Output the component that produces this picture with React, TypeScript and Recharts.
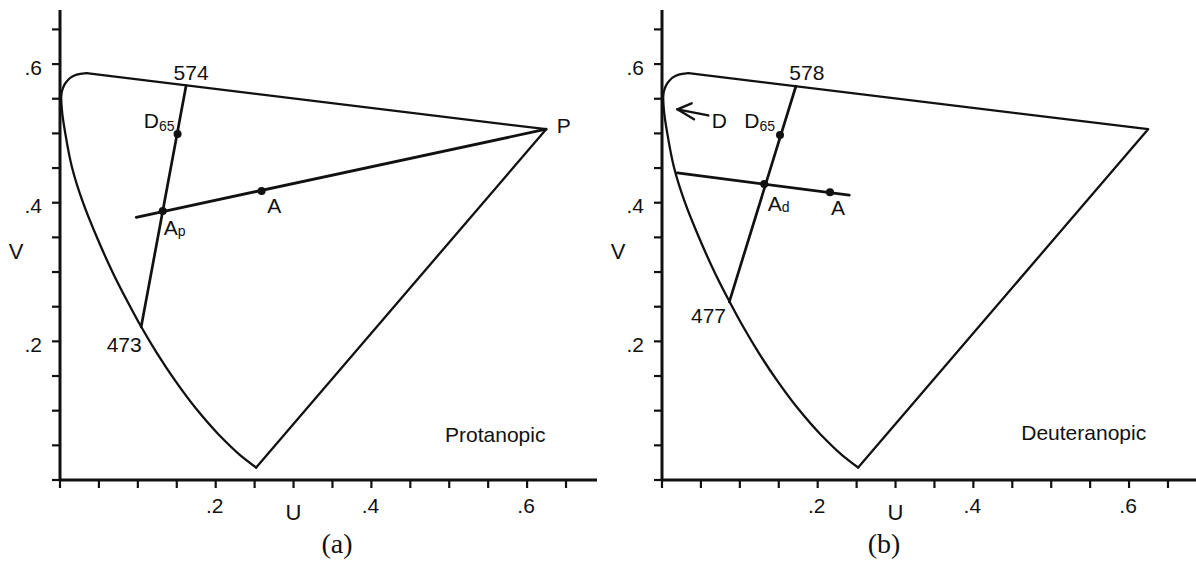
import React from 'react';
import { ComposedChart, Line, XAxis, YAxis, ReferenceDot } from 'recharts';

type Pt = { u: number; v: number };

// spectrum locus: curved branch from the violet corner up round the green bend
// (v rises along the list, so it is drawn with a monotone-in-v curve)
const locusCurve: Pt[] = [
  { u: 0.252, v: 0.018 },
  { u: 0.2313, v: 0.036 },
  { u: 0.2043, v: 0.065 },
  { u: 0.1747, v: 0.103 },
  { u: 0.1475, v: 0.144 },
  { u: 0.1245, v: 0.183 },
  { u: 0.1043, v: 0.221 },
  { u: 0.0855, v: 0.26 },
  { u: 0.0683, v: 0.298 },
  { u: 0.0478, v: 0.349 },
  { u: 0.0296, v: 0.4 },
  { u: 0.0152, v: 0.452 },
  { u: 0.0068, v: 0.5 },
  { u: 0.0028, v: 0.53 },
  { u: 0.0015, v: 0.553 },
  { u: 0.004, v: 0.566 },
  { u: 0.008, v: 0.574 },
  { u: 0.0165, v: 0.5825 },
  { u: 0.026, v: 0.586 },
  { u: 0.034, v: 0.587 },
];
// straight edges: top of the locus to the red end, purple line back down
const locusEdges: Pt[] = [
  { u: 0.034, v: 0.587 },
  { u: 0.6245, v: 0.506 },
  { u: 0.252, v: 0.018 },
];

// (a) protanopic
const protanTop: Pt = { u: 0.162, v: 0.569 }; // 574 nm
const protanBottom: Pt = { u: 0.1043, v: 0.221 }; // 473 nm
const protanPoint: Pt = { u: 0.6245, v: 0.506 }; // P
const protanConfusion: Pt[] = [{ u: 0.0979, v: 0.379 }, protanPoint];
const protanD65: Pt = { u: 0.151, v: 0.499 };
const protanA: Pt = { u: 0.259, v: 0.417 };
const protanAp: Pt = { u: 0.132, v: 0.388 };

// (b) deuteranopic
const deutanTop: Pt = { u: 0.172, v: 0.568 }; // 578 nm
const deutanBottom: Pt = { u: 0.0865, v: 0.257 }; // 477 nm
const deutanConfusion: Pt[] = [{ u: 0.0197, v: 0.443 }, { u: 0.2406, v: 0.411 }];
const deutanD65: Pt = { u: 0.1516, v: 0.4976 };
const deutanA: Pt = { u: 0.2158, v: 0.415 };
const deutanAd: Pt = { u: 0.1314, v: 0.427 };
const arrowShaft: Pt[] = [{ u: 0.0595, v: 0.5259 }, { u: 0.0197, v: 0.5347 }];
const arrowHead: Pt[] = [
  { u: 0.0381, v: 0.5434 },
  { u: 0.0197, v: 0.5347 },
  { u: 0.0411, v: 0.5203 },
];

const uTicks = [0, 0.05, 0.1, 0.15, 0.2, 0.25, 0.3, 0.35, 0.4, 0.45, 0.5, 0.55, 0.6, 0.65];
const vTicks = [0, 0.05, 0.1, 0.15, 0.2, 0.25, 0.3, 0.35, 0.4, 0.45, 0.5, 0.55, 0.6, 0.65];
const labelledTicks = [0.2, 0.4, 0.6];

const INK = '#111';
const SANS = '"Liberation Sans", Arial, Helvetica, sans-serif';
const SERIF = '"Liberation Serif", "Times New Roman", serif';
const V_MAX = 0.678;

const isLabelled = (val: number) => labelledTicks.some((t) => Math.abs(t - val) < 1e-6);
const fmt = (val: number) => String(val).replace(/^0/, '');

const XTick = ({ x, y, payload }: any) =>
  isLabelled(payload.value) ? (
    <text x={x - 1} y={y + 23} textAnchor="middle" fontSize={21} fontFamily={SANS} fill={INK}>
      {fmt(payload.value)}
    </text>
  ) : (
    <g />
  );

const YTick = ({ x, y, payload }: any) =>
  isLabelled(payload.value) ? (
    <text x={x - 8} y={y + 10.5} textAnchor="end" fontSize={21} fontFamily={SANS} fill={INK}>
      {fmt(payload.value)}
    </text>
  ) : (
    <g />
  );

interface Note {
  at: Pt;
  text: string;
  sub?: string;
  anchor?: 'start' | 'middle' | 'end';
  dx: number;
  dy: number;
  subDy?: number;
}

const NoteText = ({ viewBox, note }: any) => {
  const cx = viewBox.x + (viewBox.width || 0) / 2;
  const cy = viewBox.y + (viewBox.height || 0) / 2;
  return (
    <text
      x={cx + note.dx}
      y={cy + note.dy}
      textAnchor={note.anchor ?? 'start'}
      fontSize={21}
      fontFamily={SANS}
      fill={INK}
    >
      {note.text}
      {note.sub && (
        <tspan fontSize={14} dy={note.subDy ?? 2.5}>
          {note.sub}
        </tspan>
      )}
    </text>
  );
};

const protanNotes: Note[] = [
  { at: protanTop, text: '574', anchor: 'middle', dx: 5, dy: -5.5 },
  { at: protanD65, text: 'D', sub: '65', anchor: 'end', dx: -3, dy: -5.7 },
  { at: protanAp, text: 'A', sub: 'p', dx: 1, dy: 24, subDy: 1 },
  { at: protanA, text: 'A', dx: 5.5, dy: 22.4 },
  { at: protanPoint, text: 'P', dx: 10.5, dy: 3.5 },
  { at: protanBottom, text: '473', anchor: 'end', dx: 0.5, dy: 25 },
  { at: { u: 0.6236, v: 0.055 }, text: 'Protanopic', anchor: 'end', dx: 0, dy: 0 },
];

const deutanNotes: Note[] = [
  { at: deutanTop, text: '578', anchor: 'middle', dx: 11, dy: -6 },
  { at: deutanD65, text: 'D', sub: '65', anchor: 'end', dx: -5, dy: -6.7 },
  { at: arrowShaft[0], text: 'D', dx: 3.4, dy: 13 },
  { at: deutanAd, text: 'A', sub: 'd', dx: 3.4, dy: 26.7, subDy: 1 },
  { at: deutanA, text: 'A', dx: 1, dy: 22.7 },
  { at: deutanBottom, text: '477', anchor: 'end', dx: -3.3, dy: 21.5 },
  { at: { u: 0.622, v: 0.057 }, text: 'Deuteranopic', anchor: 'end', dx: 0, dy: 0 },
];

const seg = (
  key: string,
  data: Pt[],
  width: number,
  type: 'linear' | 'monotoneY' = 'linear',
) => (
  <Line
    key={key}
    data={data}
    dataKey="v"
    type={type}
    stroke={INK}
    strokeWidth={width}
    strokeLinejoin="round"
    strokeLinecap="round"
    dot={false}
    activeDot={false}
    legendType="none"
    isAnimationActive={false}
  />
);

const dot = (key: string, p: Pt) => (
  <ReferenceDot key={key} x={p.u} y={p.v} r={4} fill={INK} stroke="none" />
);

const note = (key: string, n: Note) => (
  <ReferenceDot
    key={key}
    x={n.at.u}
    y={n.at.v}
    r={0}
    fill="none"
    stroke="none"
    label={(p: any) => <NoteText viewBox={p.viewBox} note={n} />}
  />
);

interface PanelProps {
  width: number;
  rightGap: number;
  uMax: number;
  children: React.ReactNode;
}

const Panel = ({ width, rightGap, uMax, children }: PanelProps) => (
  <ComposedChart width={width} height={563} margin={{ top: 10, right: rightGap, bottom: 0, left: 0 }}>
    <XAxis
      type="number"
      dataKey="u"
      domain={[0, uMax]}
      allowDataOverflow
      ticks={uTicks}
      interval={0}
      height={83}
      tickSize={8}
      stroke={INK}
      axisLine={{ stroke: INK, strokeWidth: 3 }}
      tickLine={{ stroke: INK, strokeWidth: 2.2 }}
      tick={<XTick />}
      label={{
        content: ({ viewBox }: any) => (
          <text
            x={viewBox.x + viewBox.width * (0.3 / uMax)}
            y={viewBox.y + 40}
            textAnchor="middle"
            fontSize={22}
            fontFamily={SANS}
            fill={INK}
          >
            U
          </text>
        ),
      }}
    />
    <YAxis
      type="number"
      dataKey="v"
      domain={[0, V_MAX]}
      allowDataOverflow
      ticks={vTicks}
      interval={0}
      width={60}
      tickSize={8}
      stroke={INK}
      axisLine={{ stroke: INK, strokeWidth: 3 }}
      tickLine={{ stroke: INK, strokeWidth: 2.2 }}
      tick={<YTick />}
      label={{
        content: ({ viewBox }: any) => (
          <text
            x={viewBox.x + 16}
            y={viewBox.y + viewBox.height * (1 - 0.33 / V_MAX) + 7.5}
            textAnchor="middle"
            fontSize={22}
            fontFamily={SANS}
            fill={INK}
          >
            V
          </text>
        ),
      }}
    />
    {seg('locus-curve', locusCurve, 2.3, 'monotoneY')}
    {seg('locus-edges', locusEdges, 2.3)}
    {children}
  </ComposedChart>
);

export default function App() {
  return (
    <div style={{ position: 'absolute', left: 0, top: 0, width: 1196, height: 563, background: '#fff' }}>
      <div style={{ position: 'absolute', left: 0, top: 0 }}>
        <Panel width={600} rightGap={3} uMax={0.6898}>
          {seg('dominant', [protanTop, protanBottom], 2.7)}
          {seg('confusion', protanConfusion, 2.8)}
          {dot('d65', protanD65)}
          {dot('a', protanA)}
          {dot('ap', protanAp)}
          {protanNotes.map((n, i) => note(`n${i}`, n))}
        </Panel>
      </div>
      <div style={{ position: 'absolute', left: 602, top: 0 }}>
        <Panel width={594} rightGap={0} uMax={0.686}>
          {seg('dominant', [deutanTop, deutanBottom], 2.7)}
          {seg('confusion', deutanConfusion, 2.8)}
          {seg('arrow-shaft', arrowShaft, 2.4)}
          {seg('arrow-head', arrowHead, 2.4)}
          {dot('d65', deutanD65)}
          {dot('a', deutanA)}
          {dot('ad', deutanAd)}
          {deutanNotes.map((n, i) => note(`n${i}`, n))}
        </Panel>
      </div>
      <svg
        width={1196}
        height={563}
        style={{ position: 'absolute', left: 0, top: 0, pointerEvents: 'none' }}
      >
        <text x={337} y={553} textAnchor="middle" fontSize={28} fontFamily={SERIF} fill={INK}>
          (a)
        </text>
        <text x={884} y={553} textAnchor="middle" fontSize={28} fontFamily={SERIF} fill={INK}>
          (b)
        </text>
      </svg>
    </div>
  );
}
